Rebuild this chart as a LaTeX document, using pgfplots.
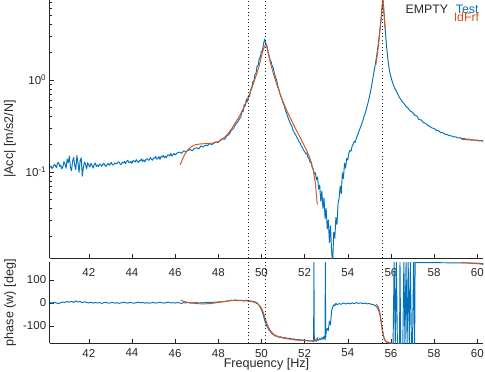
\documentclass[border=0pt]{standalone}
\usepackage{fontspec}
\setmainfont{Liberation Sans}
\usepackage{pgfplots}
\pgfplotsset{compat=1.18}
\definecolor{mblue}{rgb}{0,0.447,0.741}
\definecolor{morange}{rgb}{0.85,0.325,0.098}
\definecolor{axg}{rgb}{0.15,0.15,0.15}
\pgfplotsset{
 common/.style={scale only axis, width=433.6pt, xmin=40.19, xmax=60.28,
  axis lines*=left, axis line style={axg, line width=0.5pt},
  every tick/.style={axg, line width=0.5pt}, major tick length=4.3pt, minor tick length=2.4pt,
  tick align=inside, xtick pos=bottom, ytick pos=left,
  xtick={42,44,...,60}, xticklabels={42,44,46,48,50,52,54,56,58,60},
  ticklabel style={font=\fontsize{11.5}{13}\selectfont, text=axg},
  clip=true},
 blueline/.style={mblue, line width=0.95pt, line join=round},
 orline/.style={morange, line width=0.95pt},
 dotline/.style={black!85, line width=0.75pt, dash pattern=on 1pt off 2.5pt},
}
\begin{document}
\begin{tikzpicture}[x=1pt,y=1pt]
\useasboundingbox (0,0) rectangle (485,372);
\begin{axis}[common, at={(49.7pt,114pt)}, anchor=south west, height=258pt,
  ymode=log, ymin=0.0116, ymax=7.4, ytick={0.1,1},
  yticklabels={10\textsuperscript{-1},10\textsuperscript{0}},
  minor ytick={0.02,0.03,0.04,0.05,0.06,0.07,0.08,0.09,0.2,0.3,0.4,0.5,0.6,0.7,0.8,0.9,2,3,4,5,6,7},
  xticklabel style={yshift=-7pt}]
\addplot[blueline] table {
40.20 0.112
40.25 0.116
40.30 0.109
40.35 0.113
40.40 0.121
40.45 0.118
40.50 0.111
40.55 0.124
40.60 0.127
40.65 0.115
40.70 0.119
40.75 0.108
40.80 0.114
40.85 0.129
40.90 0.122
40.95 0.110
41.00 0.138
41.05 0.126
41.10 0.149
41.15 0.112
41.20 0.103
41.25 0.131
41.30 0.144
41.35 0.118
41.40 0.106
41.45 0.151
41.50 0.125
41.55 0.099
41.60 0.134
41.65 0.142
41.70 0.090
41.75 0.112
41.80 0.128
41.85 0.121
41.90 0.108
41.95 0.126
42.00 0.119
42.05 0.113
42.10 0.124
42.15 0.118
42.20 0.110
42.25 0.121
42.30 0.125
42.35 0.115
42.40 0.119
42.45 0.114
42.50 0.122
42.55 0.121
42.60 0.115
42.65 0.120
42.70 0.124
42.75 0.118
42.80 0.115
42.85 0.120
42.90 0.124
42.95 0.118
43.00 0.122
43.05 0.127
43.10 0.119
43.15 0.119
43.20 0.125
43.25 0.123
43.30 0.122
43.35 0.128
43.40 0.129
43.45 0.122
43.50 0.120
43.55 0.127
43.60 0.125
43.65 0.130
43.70 0.123
43.75 0.130
43.80 0.134
43.85 0.128
43.90 0.126
43.95 0.130
44.00 0.124
44.05 0.133
44.10 0.131
44.15 0.128
44.20 0.136
44.25 0.130
44.30 0.127
44.35 0.134
44.40 0.132
44.45 0.139
44.50 0.130
44.55 0.135
44.60 0.129
44.65 0.137
44.70 0.139
44.75 0.135
44.80 0.134
44.85 0.143
44.90 0.138
44.95 0.134
45.00 0.142
45.05 0.141
45.10 0.147
45.15 0.138
45.20 0.140
45.25 0.147
45.30 0.137
45.35 0.147
45.40 0.145
45.45 0.151
45.50 0.143
45.55 0.148
45.60 0.143
45.65 0.153
45.70 0.153
45.75 0.149
45.80 0.159
45.85 0.149
45.90 0.153
45.95 0.159
46.00 0.153
46.10 0.161
46.20 0.164
46.30 0.160
46.40 0.170
46.50 0.166
46.60 0.171
46.70 0.176
46.80 0.170
46.90 0.181
47.00 0.183
47.10 0.178
47.20 0.192
47.30 0.187
47.40 0.195
47.50 0.193
47.60 0.204
47.70 0.198
47.80 0.206
47.90 0.213
48.00 0.209
48.10 0.222
48.20 0.231
48.30 0.226
48.40 0.248
48.50 0.255
48.60 0.282
48.70 0.295
48.80 0.330
48.90 0.350
49.00 0.383
49.05 0.40
49.10 0.46
49.15 0.45
49.20 0.54
49.25 0.52
49.30 0.62
49.35 0.58
49.40 0.68
49.45 0.66
49.50 0.78
49.55 0.82
49.60 0.95
49.65 0.98
49.70 1.15
49.75 1.18
49.80 1.42
49.85 1.45
49.90 1.70
49.95 1.78
50.00 2.05
50.05 2.10
50.10 2.50
50.15 2.78
50.20 2.50
50.25 2.35
50.30 2.05
50.35 1.85
50.40 1.65
50.45 1.58
50.50 1.42
50.55 1.35
50.60 1.18
50.65 1.08
50.70 1.00
50.75 0.88
50.80 0.80
50.85 0.72
50.90 0.66
50.95 0.62
51.00 0.56
51.05 0.53
51.10 0.48
51.15 0.44
51.20 0.41
51.25 0.38
51.30 0.355
51.35 0.33
51.40 0.32
51.45 0.29
51.50 0.275
51.55 0.26
51.60 0.25
51.65 0.235
51.70 0.225
51.75 0.21
51.80 0.205
51.85 0.19
51.90 0.185
51.95 0.172
52.00 0.168
52.05 0.158
52.10 0.16
52.15 0.145
52.20 0.14
52.25 0.128
52.30 0.126
52.35 0.112
52.40 0.108
52.45 0.095
52.50 0.098
52.55 0.082
52.60 0.088
52.65 0.065
52.70 0.072
52.75 0.048
52.80 0.062
52.85 0.040
52.90 0.052
52.95 0.031
53.00 0.040
53.05 0.024
53.10 0.030
53.15 0.017
53.20 0.026
53.25 0.014
53.30 0.010
53.35 0.022
53.40 0.019
53.45 0.032
53.50 0.027
53.55 0.045
53.60 0.052
53.65 0.070
53.70 0.058
53.75 0.098
53.80 0.085
53.85 0.125
53.90 0.11
53.95 0.14
54.00 0.135
54.05 0.16
54.10 0.172
54.15 0.168
54.20 0.19
54.25 0.2
54.30 0.215
54.35 0.21
54.40 0.235
54.45 0.25
54.50 0.27
54.55 0.29
54.60 0.31
54.65 0.335
54.70 0.36
54.75 0.40
54.80 0.43
54.85 0.47
54.90 0.52
54.95 0.58
55.00 0.65
55.05 0.74
55.10 0.85
55.15 1.0
55.20 1.18
55.25 1.35
55.30 1.6
55.35 1.9
55.40 2.3
55.45 2.9
55.50 3.7
55.55 4.8
55.60 6.5
55.63 7.4
55.65 6.6
55.70 4.6
55.75 3.2
55.80 2.3
55.85 1.75
55.90 1.4
55.95 1.2
56.00 1.08
56.05 0.98
56.10 0.9
56.15 0.84
56.20 0.79
56.25 0.76
56.30 0.71
56.35 0.68
56.40 0.64
56.45 0.62
56.50 0.59
56.60 0.556
56.70 0.515
56.80 0.492
56.90 0.458
57.00 0.445
57.10 0.414
57.20 0.405
57.30 0.371
57.40 0.368
57.50 0.345
57.60 0.338
57.70 0.321
57.80 0.313
57.90 0.301
58.00 0.297
58.10 0.283
58.20 0.281
58.30 0.268
58.40 0.267
58.50 0.257
58.60 0.256
58.70 0.248
58.80 0.247
58.90 0.240
59.00 0.241
59.10 0.234
59.20 0.236
59.30 0.230
59.40 0.231
59.50 0.226
59.60 0.228
59.70 0.223
59.80 0.224
59.90 0.220
60.00 0.222
60.10 0.218
60.20 0.219
60.28 0.216
};
\addplot[orline] table {
46.23 0.119
46.3 0.13
46.4 0.148
46.5 0.163
46.6 0.175
46.7 0.184
46.8 0.191
46.9 0.196
47.0 0.199
47.2 0.202
47.4 0.203
47.6 0.204
47.8 0.207
48.0 0.213
48.2 0.228
48.4 0.252
48.6 0.29
48.8 0.345
49.0 0.41
49.2 0.51
49.4 0.65
49.6 0.87
49.8 1.2
49.9 1.45
50.0 1.8
50.1 2.2
50.2 2.45
50.25 2.3
50.3 2.05
50.4 1.6
50.5 1.3
50.6 1.08
50.8 0.78
51.0 0.58
51.2 0.45
51.4 0.36
51.6 0.29
51.8 0.235
52.0 0.19
52.1 0.17
52.2 0.15
52.3 0.13
52.4 0.105
52.5 0.075
52.59 0.044
};
\addplot[orline] table {
55.30 1.45
55.35 1.75
55.40 2.15
55.45 2.75
55.50 3.6
55.55 4.8
55.60 6.6
55.63 7.3
55.66 6.2
55.70 4.5
55.73 3.6
};
\addplot[orline] table {
59.27 0.226
59.60 0.223
60.00 0.220
60.28 0.217
};
\addplot[dotline] coordinates {(49.39,0.0116) (49.39,7.4)};
\addplot[dotline] coordinates {(50.19,0.0116) (50.19,7.4)};
\addplot[dotline] coordinates {(55.61,0.0116) (55.61,7.4)};
\end{axis}
\begin{axis}[common, at={(49.7pt,28.5pt)}, anchor=south west, height=81.2pt,
  ymin=-176, ymax=176, ytick={-100,0,100}, yticklabels={-100,0,100},
  xticklabel style={yshift=-2pt}]
\addplot[blueline] table {
40.2 2
40.3 -1
40.4 3
40.5 0
40.6 -3
40.7 1
40.8 4
40.9 2
41.0 6
41.1 3
41.2 7
41.3 2
41.4 8
41.5 4
41.6 6
41.7 1
41.8 5
41.9 2
42.0 0
42.1 3
42.2 -1
42.3 2
42.4 0
42.5 1
42.6 -2
42.7 1
42.8 2
42.9 -1
43.0 0
43.1 2
43.2 -1
43.3 1
43.4 -2
43.5 0
43.6 3
43.7 1
43.8 -1
43.9 2
44.0 0
44.1 -1
44.2 1
44.3 3
44.4 0
44.5 2
44.6 -1
44.7 1
44.8 -1
44.9 0
45.0 2
45.1 -1
45.2 1
45.3 3
45.4 0
45.5 -1
45.6 2
45.7 3
45.8 0
45.9 1
46.0 -1
46.1 2
46.2 0
46.3 -2
46.4 1
46.5 0
46.6 2
46.7 -1
46.8 1
46.9 0
47.0 2
47.1 -1
47.2 1
47.3 0
47.4 2
47.5 1
47.6 3
47.7 1
47.8 4
47.9 2
48.0 5
48.1 4
48.2 6
48.3 5
48.4 8
48.5 9
48.6 12
48.7 10
48.8 13
48.9 9
49.0 11
49.1 10
49.2 8
49.3 12
49.4 7
49.5 9
49.6 6
49.7 5
49.75 2
49.8 0
49.85 -5
49.9 -12
49.95 -20
50.0 -30
50.05 -42
50.1 -58
50.15 -75
50.2 -88
50.25 -100
50.3 -108
50.35 -118
50.4 -122
50.45 -130
50.5 -133
50.55 -138
50.6 -140
50.65 -144
50.7 -143
50.8 -149
50.9 -147
51.0 -152
51.1 -150
51.2 -155
51.3 -153
51.4 -157
51.5 -156
51.6 -160
51.7 -158
51.8 -161
51.9 -160
52.0 -163
52.1 -162
52.2 -165
52.3 -164
52.38 -166
52.42 -167
52.43 175
52.45 -166
52.5 -163
52.55 -166
52.6 -158
52.65 -162
52.7 -155
52.75 -160
52.8 -150
52.85 -158
52.9 -145
52.95 -160
52.96 175
52.98 -150
53.0 -125
53.05 -110
53.1 -120
53.15 -80
53.2 -95
53.25 -35
53.3 -20
53.35 -8
53.4 -12
53.45 -2
53.5 -8
53.6 -3
53.7 -6
53.8 0
53.9 -5
54.0 -1
54.1 -4
54.2 0
54.3 -3
54.4 1
54.5 -2
54.6 0
54.7 -3
54.8 -1
54.9 -4
55.0 -3
55.1 -6
55.2 -8
55.25 -10
55.3 -14
55.35 -18
55.4 -25
55.45 -38
55.5 -55
55.55 -85
55.6 -115
55.65 -140
55.7 -158
55.75 -165
55.8 -170
55.85 -172
55.9 -174
56.0 -175
56.1 -176
56.15 176
56.2 -176
56.25 176
56.3 -176
56.4 -176
56.42 176
56.45 -176
56.55 -176
56.6 176
56.65 -176
56.7 176
56.75 -176
56.8 176
56.85 -176
56.9 176
56.95 -176
57.0 -176
57.05 176
57.1 -176
57.12 176
57.2 175
57.5 175
58.0 174.5
58.5 174
59.0 173.5
59.5 173
60.0 172
60.28 170
};
\addplot[orline] table {
46.25 12
46.4 7
46.6 2
46.8 -1
47.0 -3
47.2 -4
47.4 -4
47.6 -3
47.8 -1
48.0 2
48.2 5
48.4 8
48.6 10
48.8 11
49.0 11
49.2 10
49.4 8
49.6 5
49.7 2
49.8 -3
49.9 -10
50.0 -22
50.1 -45
50.2 -75
50.3 -100
50.4 -118
50.5 -130
50.6 -138
50.8 -147
51.0 -152
51.3 -157
51.6 -161
52.0 -164
52.3 -165
52.45 -163
52.55 -157
52.63 -148
};
\addplot[orline] table {
55.32 -5
55.4 -15
55.45 -28
55.5 -48
55.55 -80
55.6 -115
55.65 -142
55.7 -158
55.8 -168
55.9 -172
56.0 -174
56.1 -175
};
\addplot[orline] table {
59.27 175
59.6 173
60.0 170
60.28 167
};
\addplot[dotline] coordinates {(49.39,-176) (49.39,176)};
\addplot[dotline] coordinates {(50.19,-176) (50.19,176)};
\addplot[dotline] coordinates {(55.61,-176) (55.61,176)};
\end{axis}
\begin{scope}[every node/.style={inner sep=0pt, text=axg}]
\node[rotate=90, font=\fontsize{12.6}{14}\selectfont] at (10,233) {|Acc| [m/s2/N]};
\node[rotate=90, font=\fontsize{12.6}{14}\selectfont] at (10,69.2) {phase (w) [deg]};
\node[anchor=base, font=\fontsize{12.6}{14}\selectfont] at (266.5,4) {Frequency [Hz]};
\node[anchor=base east, font=\fontsize{12.3}{14}\selectfont] at (448.3,358) {EMPTY};
\node[anchor=base east, font=\fontsize{12.3}{14}\selectfont, text=mblue] at (478.7,358) {Test};
\node[anchor=base east, font=\fontsize{12.3}{14}\selectfont, text=morange] at (479.3,350.3) {IdFrf};
\end{scope}
\end{tikzpicture}
\end{document}
